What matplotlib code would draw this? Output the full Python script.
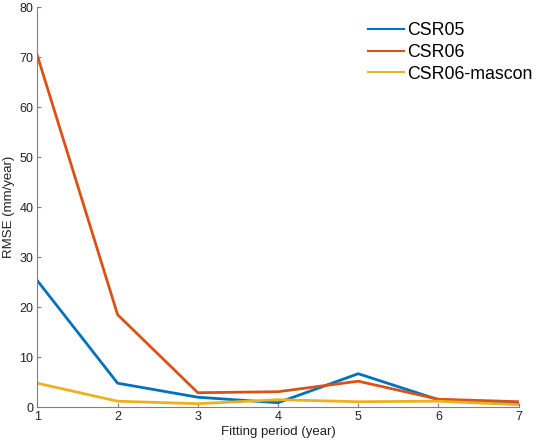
import matplotlib
matplotlib.use("Agg")
import matplotlib.pyplot as plt

plt.rcParams['font.family'] = ['Liberation Sans', 'DejaVu Sans']

periods = [1, 2, 3, 4, 5, 6, 7]
csr05 = [25.3, 4.8, 2.0, 0.9, 6.7, 1.5, 0.8]
csr06 = [70.3, 18.5, 2.9, 3.1, 5.2, 1.6, 1.1]
mascon = [4.8, 1.2, 0.7, 1.5, 1.1, 1.2, 0.5]
labels = ['CSR05', 'CSR06', 'CSR06-mascon']
colors = ['#0072BD', '#D95319', '#EDB120']

fig = plt.figure(figsize=(5.5, 4.47), dpi=100)
ax = fig.add_axes([0.068, 0.089, 0.875, 0.895])
for y, lab, c in zip([csr05, csr06, mascon], labels, colors):
    ax.plot(periods, y, color=c, lw=2, label=lab)

ax.set_xlim(1, 7)
ax.set_ylim(0, 80)
ax.set_xticks(periods)
ax.set_yticks(range(0, 81, 10))
ax.spines['top'].set_visible(False)
ax.spines['right'].set_visible(False)
for s in ['left', 'bottom']:
    ax.spines[s].set_color('#808080')
    ax.spines[s].set_linewidth(0.8)
ax.tick_params(direction='in', length=3, color='#808080', labelsize=9, labelcolor='#222222', pad=3)
ax.set_xlabel('Fitting period (year)', fontsize=9.5, color='#222222', labelpad=2)
ax.set_ylabel('RMSE (mm/year)', fontsize=9.5, color='#222222', labelpad=3)

leg = ax.legend(loc='upper left', bbox_to_anchor=(0.687, 0.962), frameon=False,
                fontsize=12.8, handlelength=2.0, handletextpad=0.2, labelspacing=0.26,
                borderaxespad=0, borderpad=0)
for h in leg.get_lines():
    h.set_linewidth(1.5)
fig.savefig('out.png', dpi=100)
